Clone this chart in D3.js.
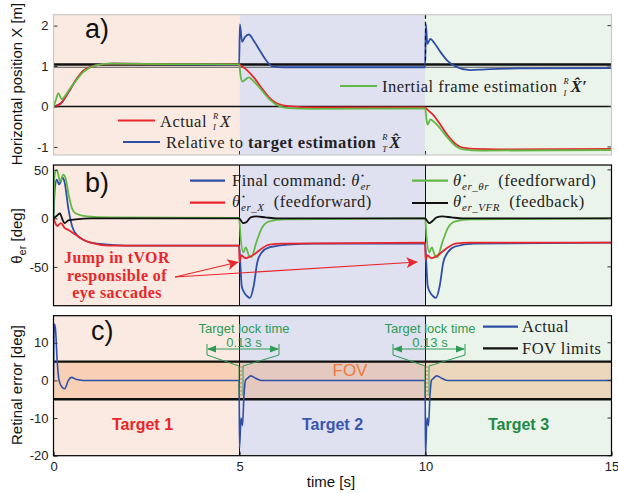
<!DOCTYPE html>
<html>
<head>
<meta charset="utf-8">
<script src="https://cdn.jsdelivr.net/npm/d3@7"></script>
<style>
  body { margin: 0; background: #fff; }
  svg { display: block; }
  .tick text { font-family: "Liberation Sans", Arial, sans-serif; font-size: 13px; fill: #222; }
  .leg { font-family: "Liberation Serif", serif; font-size: 16.5px; letter-spacing: 0.5px; fill: #222; }
</style>
</head>
<body>
<svg id="chart" width="618" height="493"></svg>
<script>
// Data: [time s, value]
const TIME_TICKS = [0, 5, 10, 15];
const TARGET_SPANS = [[0, 5], [5, 10], [10, 15]];
const TARGET_LABELS = ['Target 1', 'Target 2', 'Target 3'];
const SWITCH_TIMES = [5, 10];

// panel a) horizontal position X [m]
const POS_TICKS = [-1, 0, 1, 2];
const posActual = [[0,0],[0.1,0.02],[0.2,0.08],[0.4,0.35],[0.6,0.65],[0.8,0.88],[1.0,0.98],[1.3,1.04],[1.6,1.06],[3,1.05],[4.99,1.04],
  [5.05,1.0],[5.2,0.9],[5.4,0.7],[5.6,0.45],[5.8,0.22],[6.0,0.08],[6.3,0.01],[7,-0.02],[9.99,-0.02],
  [10.05,-0.08],[10.2,-0.2],[10.4,-0.45],[10.6,-0.72],[10.8,-0.92],[11.0,-1.02],[11.3,-1.05],[12,-1.06],[15,-1.05]];
const posInertial = [[0,0],[0.07,0.18],[0.13,0.33],[0.22,0.18],[0.3,0.25],[0.45,0.45],[0.6,0.63],[0.8,0.85],[1.0,0.97],[1.2,1.03],[1.5,1.06],[3,1.05],[4.99,1.04],
  [5.03,0.75],[5.08,0.62],[5.15,0.66],[5.25,0.72],[5.4,0.6],[5.6,0.4],[5.8,0.18],[6.0,0.04],[6.3,-0.04],[7,-0.06],[9.99,-0.05],
  [10.03,-0.35],[10.06,-0.45],[10.13,-0.32],[10.2,-0.36],[10.4,-0.55],[10.6,-0.78],[10.8,-0.97],[11.0,-1.06],[11.5,-1.09],[15,-1.08]];
const posRelative = [[0,0],[0.2,0.08],[0.4,0.35],[0.6,0.65],[0.8,0.88],[1.0,0.98],[1.3,1.04],[1.6,1.06],[3,1.05],[4.99,1.03],
  [5.01,2.03],[5.07,1.6],[5.15,1.72],[5.25,1.78],[5.4,1.6],[5.55,1.38],[5.7,1.16],[5.87,1.0],[6.2,0.97],[9.99,0.97],
  [10.01,2.03],[10.05,1.55],[10.13,1.67],[10.25,1.55],[10.4,1.35],[10.6,1.12],[10.83,0.98],[11.2,0.9],[11.6,0.92],[12.5,0.94],[15,0.95]];

// panel b) eye command theta_er [deg]
const ANGLE_TICKS = [-50, 0, 50];
const thFinal = [[0,0],[0.04,33],[0.09,40],[0.15,35],[0.25,42],[0.3,37],[0.4,10],[0.5,-8],[0.65,-18],[0.8,-22],[1.0,-25],[1.5,-27],[2,-28],[4.99,-28],
  [5.02,-45],[5.06,-70],[5.12,-76],[5.2,-80],[5.28,-82],[5.38,-70],[5.48,-45],[5.6,-35],[5.8,-30],[6.3,-27],[7,-26],[9.99,-26],
  [10.02,-45],[10.06,-70],[10.12,-76],[10.2,-80],[10.28,-82],[10.38,-70],[10.48,-45],[10.6,-35],[10.8,-29],[11.3,-26],[15,-25]];
const thX = [[0,0],[0.05,-5],[0.1,-8],[0.2,-5],[0.3,-10],[0.4,-12],[0.6,-17],[0.8,-22],[1.0,-25],[1.5,-28],[4.99,-28],
  [5.0,-45],[5.05,-38],[5.15,-41],[5.25,-40],[5.4,-37],[5.6,-31],[5.8,-27],[6.2,-26],[9.99,-25],
  [10.0,-43],[10.05,-38],[10.15,-41],[10.25,-40],[10.4,-36],[10.6,-30],[10.8,-26],[11.2,-25],[15,-25]];
const thTheta = [[0,0],[0.03,45],[0.09,50],[0.18,38],[0.26,45],[0.32,42],[0.42,22],[0.5,10],[0.6,5],[0.9,2],[1.5,1],[4.99,0.5],
  [5.03,-20],[5.1,-35],[5.17,-30],[5.25,-38],[5.32,-40],[5.45,-25],[5.6,-10],[5.8,-3],[6.2,-1],[9.99,0],
  [10.03,-20],[10.1,-35],[10.17,-30],[10.25,-38],[10.32,-40],[10.45,-25],[10.6,-10],[10.8,-3],[11.2,-1],[15,0]];
const thVFR = [[0,0],[0.1,3],[0.17,5],[0.25,-2],[0.3,-5],[0.4,-2],[0.6,-1],[1,0],[4.99,0],
  [5.05,-3],[5.1,-5],[5.18,-4],[5.3,1],[5.45,2],[5.7,1],[6,0],[9.99,0],
  [10.05,-3],[10.1,-5],[10.18,-3],[10.3,1],[10.45,2],[10.7,1],[11,0],[15,0]];

// panel c) retinal error [deg]
const RET_TICKS = [-20, -10, 0, 10];
const FOV_LIMITS = [-5, 5];
const retinal = [[0,0],[0.02,15],[0.05,14],[0.1,5],[0.15,0],[0.25,-2],[0.3,-2.2],[0.4,0],[0.48,0.8],[0.6,0.3],[0.8,0],[4.99,0],
  [5.0,-18],[5.04,-10],[5.08,-12],[5.12,-4],[5.16,0],[5.22,0.6],[5.3,1.2],[5.45,0.5],[5.6,0],[9.99,0],
  [10.0,-20],[10.04,-10],[10.08,-12],[10.12,-4],[10.16,0],[10.22,0.6],[10.3,1.2],[10.45,0.5],[10.6,0],[15,0]];
const LOCK_TIMES = [5, 10];

// Colours
const RED = '#e8262b', BLUE = '#2f4fa6', GREEN = '#62b845', BLACK = '#111';
const BG = ['#fbeae1', '#dfe0f0', '#eaf4eb'];
const LOCK_GREEN = '#2f9a57';
const SANS = 'Liberation Sans, Arial, sans-serif';

const svg = d3.select('#chart');
const x = d3.scaleLinear().domain([0, 15]).range([53.5, 611.5]);

const panels = [
  {id: 'a', top: 14.7, bottom: 155, domain: [-1.2, 2.27], ticks: POS_TICKS, border: '#c8c8c8'},
  {id: 'b', top: 165, bottom: 305.7, domain: [-90, 55], ticks: ANGLE_TICKS, border: '#000'},
  {id: 'c', top: 315.7, bottom: 455.7, domain: [-20, 17.2], ticks: RET_TICKS, border: '#000'},
];

function setupPanel(p) {
  p.y = d3.scaleLinear().domain(p.domain).range([p.bottom, p.top]);
  p.g = svg.append('g');
  p.g.append('clipPath').attr('id', 'clip-' + p.id)
    .append('rect').attr('x', x(0)).attr('y', p.top)
    .attr('width', x(15) - x(0)).attr('height', p.bottom - p.top);
  p.g.selectAll('rect.bg').data(TARGET_SPANS).join('rect')
    .attr('class', 'bg')
    .attr('x', d => x(d[0])).attr('width', d => x(d[1]) - x(d[0]))
    .attr('y', p.top).attr('height', p.bottom - p.top)
    .attr('fill', (d, i) => BG[i]);
}

function drawLine(p, data, color, width) {
  let line = d3.line()
    .x(d => x(d[0])).y(d => p.y(d[1]))
    .curve(d3.curveMonotoneX);
  p.g.append('path')
    .attr('d', line(data))
    .attr('clip-path', 'url(#clip-' + p.id + ')')
    .attr('fill', 'none')
    .attr('stroke', color)
    .attr('stroke-width', width || 1.8)
    .attr('stroke-linejoin', 'round');
}

function hline(p, v, color, width) {
  p.g.append('line')
    .attr('x1', x(0)).attr('x2', x(15))
    .attr('y1', p.y(v)).attr('y2', p.y(v))
    .attr('stroke', color).attr('stroke-width', width);
}

function finishPanel(p) {
  let axis = d3.axisLeft(p.y).tickValues(p.ticks).tickFormat(d => String(d))
    .tickSizeInner(-4).tickSizeOuter(0).tickPadding(5);
  let ag = p.g.append('g').attr('transform', 'translate(' + x(0) + ',0)').call(axis);
  ag.select('.domain').remove();
  ag.selectAll('line').attr('stroke', '#333');
  // small ticks on the right edge
  p.g.selectAll('line.rt').data(p.ticks).join('line')
    .attr('class', 'rt')
    .attr('x1', x(15) - 4).attr('x2', x(15))
    .attr('y1', d => p.y(d)).attr('y2', d => p.y(d))
    .attr('stroke', '#333');
  p.g.append('rect')
    .attr('x', x(0)).attr('y', p.top)
    .attr('width', x(15) - x(0)).attr('height', p.bottom - p.top)
    .attr('fill', 'none').attr('stroke', p.border).attr('stroke-width', 1.2);
}

function legendLine(x0, x1, yy, color) {
  svg.append('line').attr('x1', x0).attr('x2', x1).attr('y1', yy).attr('y2', yy)
    .attr('stroke', color).attr('stroke-width', 2.2);
}

// pre-scripted symbol like R over I before X, drawn as its own small texts
function preScript(xx, yy, sup, sub, base, hat, prime) {
  let it = (px, py, size, s) => svg.append('text').attr('x', px).attr('y', py)
    .attr('font-family', 'Liberation Serif, serif').attr('font-style', 'italic')
    .attr('font-size', size).attr('fill', '#222').text(s);
  it(xx, yy - 8, 8.5, sup);
  it(xx, yy + 3.5, 8.5, sub);
  let b = it(xx + 7, yy, 17, hat ? base + '\u0302' + (prime ? '\u2032' : '') : base);
  if (hat) b.attr('font-weight', 'bold');
}

function thetaLabel(t, sub) {
  t.append('tspan').attr('font-style', 'italic').text('\u03b8');
  t.append('tspan').attr('font-size', 8).attr('dy', -8).text('\u22c6');
  t.append('tspan').attr('font-style', 'italic').attr('font-size', 11).attr('dx', -5).attr('dy', 12).text(sub);
  t.append('tspan').attr('dy', -4).text('\u00a0');
}

const [pa, pb, pc] = panels;
panels.forEach(setupPanel);

// ---- panel a
hline(pa, 0, BLACK, 1.3);
hline(pa, 0.97, '#555', 1);
hline(pa, 1.04, BLACK, 2.6);
drawLine(pa, posRelative, BLUE);
drawLine(pa, posActual, RED);
drawLine(pa, posInertial, GREEN);
pa.g.append('line').attr('x1', x(10)).attr('x2', x(10))
  .attr('y1', pa.top).attr('y2', pa.y(1.04))
  .attr('stroke', BLACK).attr('stroke-width', 1.2).attr('stroke-dasharray', '4,3');
SWITCH_TIMES.forEach(function(t) {
  pa.g.append('line').attr('x1', x(t)).attr('x2', x(t))
    .attr('y1', pa.bottom - 4).attr('y2', pa.bottom).attr('stroke', '#333');
});
finishPanel(pa);

// ---- panel b
SWITCH_TIMES.forEach(function(t) {
  pb.g.append('line').attr('x1', x(t)).attr('x2', x(t))
    .attr('y1', pb.top).attr('y2', pb.bottom).attr('stroke', BLACK).attr('stroke-width', 1);
});
drawLine(pb, thFinal, BLUE);
drawLine(pb, thTheta, GREEN);
drawLine(pb, thX, RED);
drawLine(pb, thVFR, BLACK);
finishPanel(pb);

// ---- panel c
pc.g.append('rect')
  .attr('x', x(0)).attr('width', x(15) - x(0))
  .attr('y', pc.y(FOV_LIMITS[1])).attr('height', pc.y(FOV_LIMITS[0]) - pc.y(FOV_LIMITS[1]))
  .attr('fill', 'rgba(240,150,80,0.3)');
SWITCH_TIMES.forEach(function(t) {
  pc.g.append('line').attr('x1', x(t)).attr('x2', x(t))
    .attr('y1', pc.top).attr('y2', pc.bottom).attr('stroke', BLACK).attr('stroke-width', 1);
});
FOV_LIMITS.forEach(v => hline(pc, v, BLACK, 2.4));
drawLine(pc, retinal, BLUE, 1.6);
finishPanel(pc);

let xAxis = d3.axisBottom(x).tickValues(TIME_TICKS).tickSizeInner(-4).tickSizeOuter(0).tickPadding(6);
let xg = svg.append('g').attr('transform', 'translate(0,' + pc.bottom + ')').call(xAxis);
xg.select('.domain').remove();
xg.selectAll('.tick text').attr('font-size', 14);

// FOV and target labels
svg.append('text').attr('x', x(7.5)).attr('y', pc.y(0) - 4)
  .attr('font-family', SANS).attr('font-size', 17)
  .attr('fill', '#f07a3c').text('FOV');
const TARGET_COLORS = [RED, '#3a56b0', '#1e8a45'];
TARGET_LABELS.forEach(function(lbl, i) {
  svg.append('text')
    .attr('x', x((TARGET_SPANS[i][0] + TARGET_SPANS[i][1]) / 2) + (i === 0 ? -4 : 0))
    .attr('y', pc.y(-13.2))
    .attr('text-anchor', 'middle')
    .attr('font-family', SANS).attr('font-size', 16).attr('font-weight', 'bold')
    .attr('fill', TARGET_COLORS[i]).text(lbl);
});

// target lock time annotations
LOCK_TIMES.forEach(function(t) {
  let cx = x(t) + 1.5;
  let g = svg.append('g').attr('stroke', LOCK_GREEN).attr('fill', 'none').attr('stroke-width', 1);
  let l = cx - 34, r = cx + 38, ya = 349, yb = 355, yc = 366;
  g.append('path').attr('d', 'M' + l + ',344V' + yb + 'L' + (cx - 2) + ',' + yc + 'V' + pc.y(-4)
    + 'M' + r + ',344V' + yb + 'L' + (cx + 2) + ',' + yc + 'V' + pc.y(-4));
  g.append('path').attr('d', 'M' + (l + 1) + ',' + ya + 'H' + (r - 1));
  g.append('path').attr('fill', LOCK_GREEN).attr('stroke', 'none')
    .attr('d', 'M' + l + ',' + ya + 'l9,-3.5v7z M' + r + ',' + ya + 'l-9,-3.5v7z');
  g.append('path').attr('stroke', '#d9773f').attr('stroke-dasharray', '2,2')
    .attr('d', 'M' + cx + ',' + yc + 'V' + pc.y(-4));
  svg.append('text').attr('x', cx + 3).attr('y', 333).attr('text-anchor', 'middle')
    .attr('font-family', SANS).attr('font-size', 13)
    .attr('fill', LOCK_GREEN).text('Target lock time');
  svg.append('text').attr('x', cx + 3).attr('y', 347).attr('text-anchor', 'middle')
    .attr('font-family', SANS).attr('font-size', 13)
    .attr('fill', LOCK_GREEN).text('0.13 s');
});

// legends panel a
legendLine(118, 155, 120.5, RED);
let ta = svg.append('text').attr('class', 'leg').attr('x', 160).attr('y', 126.5).text('Actual');
preScript(160 + ta.node().getComputedTextLength() + 6, 126.5, 'R', 'I', 'X', false, false);
legendLine(123, 160, 142, BLUE);
let tb = svg.append('text').attr('class', 'leg').attr('x', 166).attr('y', 148);
tb.append('tspan').text('Relative to ');
tb.append('tspan').attr('font-weight', 'bold').text('target estimation');
preScript(166 + tb.node().getComputedTextLength() + 6, 148, 'R', 'T', 'X', true, false);
legendLine(340, 377, 86, GREEN);
let tc = svg.append('text').attr('class', 'leg').attr('x', 382).attr('y', 92).text('Inertial frame estimation');
preScript(382 + tc.node().getComputedTextLength() + 6, 92, 'R', 'I', 'X', true, true);

// legends panel b
legendLine(190, 225, 180.7, BLUE);
let t1 = svg.append('text').attr('class', 'leg').attr('x', 232).attr('y', 186);
t1.append('tspan').text('Final command:  ');
thetaLabel(t1, 'er');
legendLine(190, 225, 202.7, RED);
let t2 = svg.append('text').attr('class', 'leg').attr('x', 232).attr('y', 207);
thetaLabel(t2, 'er_X');
t2.append('tspan').text(' (feedforward)');
legendLine(412, 448, 180.7, GREEN);
let t3 = svg.append('text').attr('class', 'leg').attr('x', 453).attr('y', 186);
thetaLabel(t3, 'er_\u03b8r');
t3.append('tspan').text(' (feedforward)');
legendLine(412, 448, 203, BLACK);
let t4 = svg.append('text').attr('class', 'leg').attr('x', 453).attr('y', 207);
thetaLabel(t4, 'er_VFR');
t4.append('tspan').text(' (feedback)');

// legends panel c
legendLine(483, 518, 326.7, BLUE);
svg.append('text').attr('class', 'leg').attr('x', 522).attr('y', 332).text('Actual');
legendLine(483, 518, 348.3, BLACK);
svg.append('text').attr('class', 'leg').attr('x', 522).attr('y', 354).text('FOV limits');

// panel letters
[['a)', 85, 38], ['b)', 85, 192], ['c)', 91, 340]].forEach(function(d) {
  svg.append('text').attr('x', d[1]).attr('y', d[2])
    .attr('font-family', SANS).attr('font-size', 27).attr('fill', '#111').text(d[0]);
});

// red annotation
const ann = ['Jump in tVOR', 'responsible of', 'eye saccades'];
ann.forEach(function(s, i) {
  svg.append('text').attr('x', 117).attr('y', 263 + i * 17.5).attr('text-anchor', 'middle')
    .attr('font-family', 'Liberation Serif, serif').attr('font-size', 16).attr('font-weight', 'bold')
    .attr('letter-spacing', 0.4).attr('fill', RED).text(s);
});
svg.append('defs').append('marker').attr('id', 'arr').attr('viewBox', '0 0 10 10')
  .attr('refX', 10).attr('refY', 5).attr('markerWidth', 16).attr('markerHeight', 11)
  .attr('markerUnits', 'userSpaceOnUse').attr('orient', 'auto')
  .append('path').attr('d', 'M0,0L10,5L0,10L2.5,5z').attr('fill', RED);
[[x(5) - 1, 262], [x(10) - 8, 262]].forEach(function(e) {
  svg.append('line').attr('x1', 175).attr('y1', 277).attr('x2', e[0]).attr('y2', e[1])
    .attr('stroke', RED).attr('stroke-width', 1.2).attr('marker-end', 'url(#arr)');
});

// axis titles
function yTitle(cy, build) {
  let t = svg.append('text').attr('transform', 'translate(22,' + cy + ') rotate(-90)')
    .attr('text-anchor', 'middle')
    .attr('font-family', SANS).attr('font-size', 15).attr('fill', '#111');
  build(t);
}
yTitle(84, t => t.text('Horizontal position X [m]'));
yTitle(236, function(t) {
  t.append('tspan').text('\u03b8');
  t.append('tspan').attr('font-size', 11).attr('dy', 4).text('er');
  t.append('tspan').attr('dy', -4).text(' [deg]');
});
yTitle(385, t => t.text('Retinal error [deg]'));
svg.append('text').attr('x', 331).attr('y', 487).attr('text-anchor', 'middle')
  .attr('font-family', SANS).attr('font-size', 15).attr('fill', '#111')
  .text('time [s]');
</script>
</body>
</html>
